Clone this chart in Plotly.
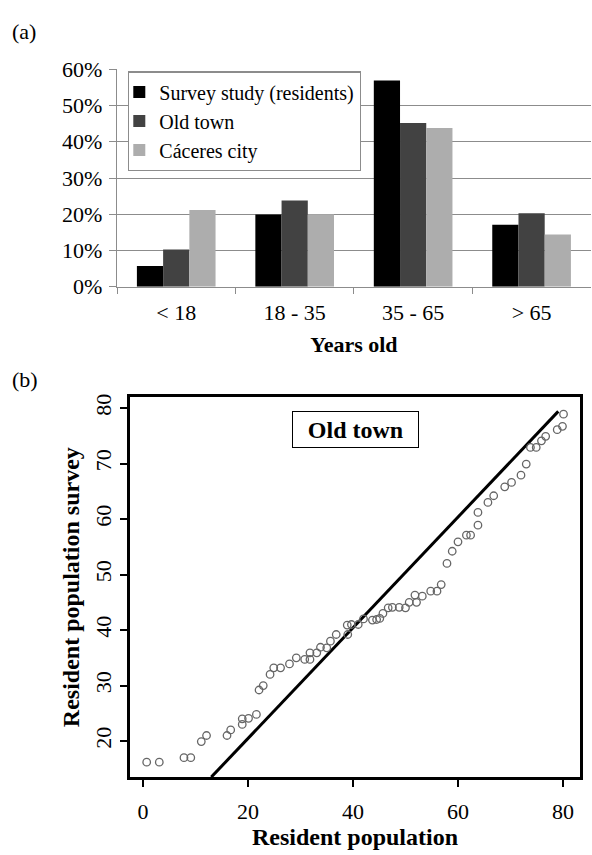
import plotly.graph_objects as go

# ---------------- data: panel (a) ----------------
age_groups = ["< 18", "18 - 35", "35 - 65", "> 65"]
survey_pct = [5.7, 19.9, 56.9, 17.1]
oldtown_pct = [10.3, 23.8, 45.2, 20.3]
caceres_pct = [21.2, 20.0, 43.8, 14.4]
pct_ticks = [0, 10, 20, 30, 40, 50, 60]
pct_labels = ["0%", "10%", "20%", "30%", "40%", "50%", "60%"]

# ---------------- data: panel (b) ----------------
resident_pop = [0.7, 3.1, 7.8, 9.1, 11.1, 12.1, 16.0, 16.7, 18.9, 18.9, 20.1, 21.6,
                22.1, 22.9, 24.2, 24.9, 26.2, 27.9, 29.2, 30.8, 31.8, 31.8, 33.1, 33.8,
                35.0, 35.7, 36.8, 39.0, 38.9, 39.7, 41.0, 42.0, 43.7, 44.5, 45.1, 45.7,
                46.7, 47.5, 48.8, 50.0, 50.7, 51.8, 52.1, 53.2, 54.8, 56.0, 56.8, 57.9,
                58.9, 60.0, 61.6, 62.4, 63.8, 63.8, 65.7, 66.8, 68.9, 70.2, 72.0, 73.0,
                73.8, 74.9, 75.9, 76.7, 78.9, 79.9, 80.1]
survey_pop = [16.2, 16.2, 17.0, 17.0, 19.9, 21.0, 21.0, 22.0, 23.0, 24.0, 24.1, 24.8,
              29.2, 30.0, 32.0, 33.2, 33.2, 33.9, 35.0, 34.7, 34.7, 35.9, 35.9, 36.9,
              36.8, 38.0, 39.2, 39.2, 40.9, 41.0, 41.0, 42.0, 41.8, 41.9, 42.1, 43.0,
              44.0, 44.1, 44.1, 44.0, 45.0, 46.3, 45.0, 46.1, 47.0, 47.0, 48.2, 52.0,
              54.2, 55.9, 57.1, 57.1, 58.9, 61.2, 63.0, 64.2, 65.8, 66.6, 67.9, 69.9,
              72.9, 72.9, 74.1, 74.9, 76.1, 76.7, 78.9]
ref_line_x = [13.0, 79.1]
ref_line_y = [13.5, 79.4]
x_ticks_b = [0, 20, 40, 60, 80]
y_ticks_b = [20, 30, 40, 50, 60, 70, 80]

SERIF = "Liberation Serif, Times New Roman, serif"
W, H = 592, 855

fig = go.Figure()

fig.add_trace(go.Bar(x=age_groups, y=survey_pct, name="Survey study (residents)",
                     marker=dict(color="#000000", line=dict(width=0)),
                     legendgroup="g0", xaxis="x", yaxis="y"))
fig.add_trace(go.Bar(x=age_groups, y=oldtown_pct, name="Old town",
                     marker=dict(color="#424242", line=dict(width=0)),
                     legendgroup="g1", xaxis="x", yaxis="y"))
fig.add_trace(go.Bar(x=age_groups, y=caceres_pct, name="Cáceres city",
                     marker=dict(color="#adadad", line=dict(width=0)),
                     legendgroup="g2", xaxis="x", yaxis="y"))

fig.add_trace(go.Scatter(x=ref_line_x, y=ref_line_y, mode="lines",
                         line=dict(color="black", width=3),
                         showlegend=False, xaxis="x2", yaxis="y2"))
fig.add_trace(go.Scatter(x=resident_pop, y=survey_pop, mode="markers",
                         marker=dict(symbol="circle-open", size=7.5,
                                     color="#666666", line=dict(width=1.3, color="#666666")),
                         showlegend=False, xaxis="x2", yaxis="y2"))

grey = "#8c8c8c"
fig.update_layout(
    width=W, height=H,
    margin=dict(l=0, r=0, t=0, b=0),
    paper_bgcolor="white", plot_bgcolor="white",
    font=dict(family=SERIF, size=22, color="black"),
    barmode="group", bargap=0.336, bargroupgap=0,
    xaxis=dict(domain=[117 / W, 0.998], anchor="y", type="category",
               range=[-0.5, 3.5], showline=True, linecolor=grey, linewidth=1.3,
               ticks="outside", tickson="boundaries", ticklen=6, tickcolor=grey,
               tickwidth=1.3, showgrid=False, tickfont=dict(size=22),
               ticklabelstandoff=6,
               title=dict(text="<b>Years old</b>", font=dict(size=22), standoff=12)),
    yaxis=dict(domain=[1 - 283 / H, 1 - 59 / H], anchor="x", range=[0, 60],
               tickmode="array", tickvals=pct_ticks, ticktext=pct_labels,
               showline=True, linecolor=grey,
               linewidth=1.3, ticks="outside", ticklen=7, tickcolor=grey, tickwidth=1.3,
               showgrid=True, gridcolor=grey, gridwidth=1.3, zeroline=False,
               tickfont=dict(size=22), ticklabelstandoff=2),
    xaxis2=dict(domain=[130 / W, 580 / W], anchor="y2", range=[-2.48, 83.24],
                tickvals=x_ticks_b, showline=True, mirror=True, linecolor="black",
                linewidth=2.5, ticks="outside", ticklen=7, tickwidth=2,
                tickcolor="black", showgrid=False, zeroline=False,
                tickfont=dict(size=22), ticklabelstandoff=6,
                title=dict(text="<b>Resident population</b>", font=dict(size=24),
                           standoff=2)),
    yaxis2=dict(domain=[1 - 788 / H, 1 - 397 / H], anchor="x2", range=[13.53, 81.92],
                tickvals=y_ticks_b, tickangle=-90, showline=True, mirror=True,
                linecolor="black", linewidth=2.5, ticks="outside", ticklen=7,
                tickwidth=2, tickcolor="black", showgrid=False, zeroline=False,
                tickfont=dict(size=22),
                title=dict(text="<b>Resident population survey</b>",
                           font=dict(size=24), standoff=6)),
    legend=dict(x=128 / W, y=1 - 61 / H, xanchor="left", yanchor="top",
                bgcolor="white", bordercolor=grey, borderwidth=1.3,
                font=dict(family=SERIF, size=20), itemwidth=30, indentation=-10,
                tracegroupgap=5, traceorder="normal"),
    annotations=[
        dict(text="(a)", x=10 / W, y=1 - 20 / H, xref="paper", yref="paper",
             xanchor="left", yanchor="middle", showarrow=False,
             font=dict(size=22)),
        dict(text="(b)", x=10 / W, y=1 - 379 / H, xref="paper", yref="paper",
             xanchor="left", yanchor="middle", showarrow=False,
             font=dict(size=22)),
        dict(text="<b>Old town</b>", x=40.4, y=76.2, xref="x2", yref="y2",
             showarrow=False, font=dict(size=24), bgcolor="white",
             bordercolor="black", borderwidth=1, borderpad=3, width=119, height=29),
    ],
)

fig.write_html("out.html")
